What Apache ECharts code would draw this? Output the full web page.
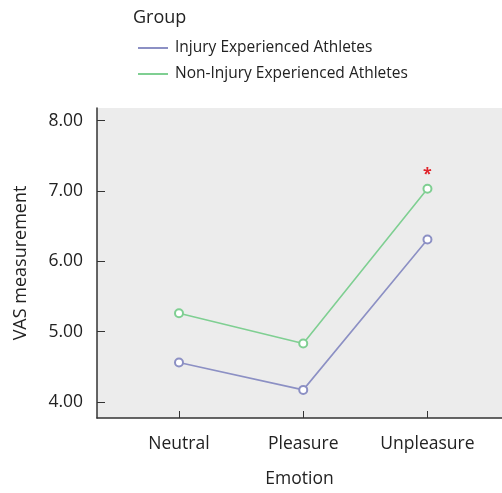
<!DOCTYPE html>
<html>
<head>
<meta charset="utf-8">
<script src="https://cdn.jsdelivr.net/npm/echarts@6/dist/echarts.min.js"></script>
<style>
  html, body { margin: 0; padding: 0; background: #fff; }
  #chart { width: 502px; height: 493px; }
</style>
</head>
<body>
<div id="chart"></div>
<script>
// 数据
var emotions = ['Neutral', 'Pleasure', 'Unpleasure'];
var injuryVals = [4.56, 4.17, 6.31];
var nonInjuryVals = [5.26, 4.83, 7.03];
var yTicks = [4, 5, 6, 7, 8];
var sigFlags = [false, false, true]; // 显著差异标记 (*)

var FONT = '"Open Sans", "Noto Sans", sans-serif';

var toPairs = function(vals, flags){
    var arr = [];
    for (var i = 0; i < vals.length; i++) {
        arr.push({
            value: [i, vals[i]],
            label: {
                show: !!(flags && flags[i]),
                formatter: '*',
                position: 'top',
                distance: 1,
                color: '#e0242b',
                fontSize: 16,
                fontWeight: 'bold'
            }
        });
    }
    return arr;
};

var chart = echarts.init(document.getElementById('chart'));

var option = {
    animation: false,
    textStyle: { fontFamily: FONT },
    title: {
        text: 'Group',
        left: 128,
        top: 4,
        textStyle: { fontSize: 18, fontWeight: 'normal', color: '#222', fontFamily: FONT }
    },
    legend: {
        orient: 'vertical',
        left: 133,
        top: 35,
        itemGap: 10,
        itemWidth: 30,
        itemHeight: 2,
        icon: 'rect',
        textStyle: { fontSize: 15.5, color: '#222', padding: [0, 0, 0, 2] },
        data: ['Injury Experienced Athletes', 'Non-Injury Experienced Athletes']
    },
    grid: {
        left: 97,
        right: 0,
        top: 108,
        bottom: 74,
        show: true,
        backgroundColor: '#ececec',
        borderWidth: 0
    },
    xAxis: {
        type: 'value',
        min: -0.66,
        max: 2.6,
        name: 'Emotion',
        nameLocation: 'middle',
        nameGap: 52,
        nameTextStyle: { fontSize: 17.5, color: '#222' },
        axisLine: { show: true, onZero: false, lineStyle: { color: '#333', width: 1.5 } },
        axisTick: { show: true, inside: true, length: 7, customValues: [0, 1, 2], lineStyle: { color: '#333' } },
        axisLabel: {
            customValues: [0, 1, 2],
            fontSize: 17.5,
            color: '#222',
            margin: 17,
            formatter: function(v){ return emotions[Math.round(v)]; }
        },
        splitLine: { show: false }
    },
    yAxis: {
        type: 'value',
        min: 3.77,
        max: 8.18,
        name: 'VAS measurement',
        nameLocation: 'middle',
        nameGap: 67,
        nameTextStyle: { fontSize: 18, color: '#222' },
        axisLine: { show: true, onZero: false, lineStyle: { color: '#333', width: 1.5 } },
        axisTick: { show: true, inside: true, length: 8, customValues: yTicks, lineStyle: { color: '#333' } },
        axisLabel: {
            customValues: yTicks,
            fontSize: 17.5,
            color: '#222',
            margin: 14,
            formatter: function(v){ return v.toFixed(2); }
        },
        splitLine: { show: false }
    },
    series: [
        {
            name: 'Injury Experienced Athletes',
            type: 'line',
            data: toPairs(injuryVals),
            color: '#8c90c4',
            symbol: 'emptyCircle',
            symbolSize: 8,
            lineStyle: { width: 1.6, color: '#8c90c4' },
            itemStyle: { color: '#8c90c4', borderWidth: 1.3 }
        },
        {
            name: 'Non-Injury Experienced Athletes',
            type: 'line',
            data: toPairs(nonInjuryVals, sigFlags),
            color: '#7fcf92',
            symbol: 'emptyCircle',
            symbolSize: 8,
            lineStyle: { width: 1.6, color: '#7fcf92' },
            itemStyle: { color: '#7fcf92', borderWidth: 1.3 }
        }
    ]
};
chart.setOption(option);
</script>
</body>
</html>
